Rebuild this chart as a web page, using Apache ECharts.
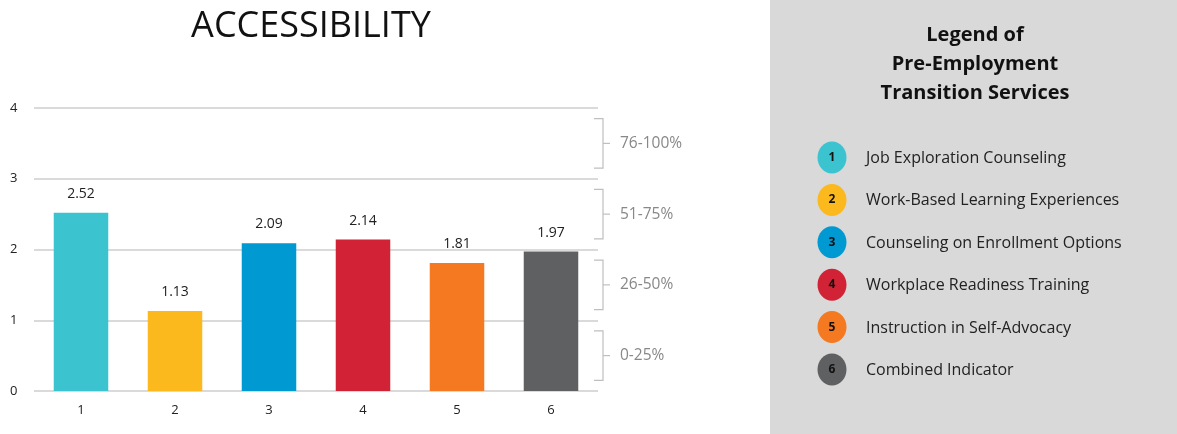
<!DOCTYPE html>
<html>
<head>
<meta charset="utf-8">
<script src="https://cdn.jsdelivr.net/npm/echarts@6/dist/echarts.min.js"></script>
<style>
  html, body { margin: 0; padding: 0; background: #fff; }
  #chart { width: 1177px; height: 434px; }
</style>
</head>
<body>
<div id="chart"></div>
<script>
// Service categories, scores and colours
const categories = ['1', '2', '3', '4', '5', '6'];
const scores = [2.52, 1.13, 2.09, 2.14, 1.81, 1.97];
const barColors = ['#3BC3CF', '#FBB91E', '#0099D1', '#D12335', '#F47920', '#5F6062'];
const serviceNames = [
  'Job Exploration Counseling',
  'Work-Based Learning Experiences',
  'Counseling on Enrollment Options',
  'Workplace Readiness Training',
  'Instruction in Self-Advocacy',
  'Combined Indicator'
];
const yTicks = [0, 1, 2, 3, 4];
const bandLabels = ['0-25%', '26-50%', '51-75%', '76-100%'];
const legendTitle = ['Legend of', 'Pre-Employment', 'Transition Services'];

const FONT = '"Open Sans", "Noto Sans", sans-serif';
const chart = echarts.init(document.getElementById('chart'), null, { renderer: 'canvas' });

// Right-hand legend panel
const panel = [];
panel.push({ type: 'rect', shape: { x: 770, y: 0, width: 407, height: 434 }, style: { fill: '#D9D9D9' }, silent: true });
legendTitle.forEach((t, i) => {
  panel.push({
    type: 'text', x: 975, y: 35 + i * 29,
    style: { text: t, font: 'bold 20px ' + FONT, fill: '#111', align: 'center', verticalAlign: 'middle' }
  });
});
serviceNames.forEach((name, i) => {
  const cy = 157.5 + i * 42.4;
  panel.push({ type: 'ellipse', shape: { cx: 832, cy: cy, rx: 14.5, ry: 16 }, style: { fill: barColors[i] } });
  panel.push({
    type: 'text', x: 832, y: cy,
    style: { text: categories[i], font: 'bold 12px ' + FONT, fill: '#111', align: 'center', verticalAlign: 'middle' }
  });
  panel.push({
    type: 'text', x: 866, y: cy + 1,
    style: { text: name, font: '16px ' + FONT, fill: '#222', align: 'left', verticalAlign: 'middle' }
  });
});

const option = {
  animation: false,
  title: {
    text: 'ACCESSIBILITY', left: 306, top: 4, textAlign: 'center',
    textStyle: { fontFamily: FONT, fontSize: 36, fontWeight: 'normal', color: '#111' }
  },
  grid: { left: 34, right: 579, top: 108, bottom: 43, containLabel: false },
  xAxis: {
    type: 'category', data: categories,
    axisLine: { show: false }, axisTick: { show: false },
    axisLabel: { fontFamily: FONT, fontSize: 13, color: '#222', margin: 13 }
  },
  yAxis: {
    type: 'value', min: 0, max: 4, interval: 1,
    axisLine: { show: false }, axisTick: { show: false },
    axisLabel: { fontFamily: FONT, fontSize: 13, color: '#222', margin: 24, align: 'left',
      formatter: v => yTicks.includes(v) ? String(v) : '' },
    splitLine: { lineStyle: { color: '#DADADA', width: 2 } }
  },
  series: [
    {
      type: 'bar', barWidth: '58%',
      data: scores.map((v, i) => ({ value: v, itemStyle: { color: barColors[i] } })),
      label: {
        show: true, position: 'top', distance: 12,
        fontFamily: FONT, fontSize: 14, color: '#222',
        formatter: p => p.value.toFixed(2)
      }
    },
    {
      // Percentage range brackets to the right of the plot
      type: 'custom', silent: true,
      data: bandLabels.map((t, i) => [i]),
      renderItem: (params, api) => {
        const i = api.value(0);
        const cs = params.coordSys;
        const xr = cs.x + cs.width;
        const top = api.coord([0, i + 0.85])[1];
        const bot = api.coord([0, i + 0.15])[1];
        const mid = (top + bot) / 2;
        const vx = xr + 5;
        const stroke = { stroke: '#BFBFBF', lineWidth: 1.2, fill: null };
        return {
          type: 'group',
          children: [
            { type: 'polyline', shape: { points: [[xr - 4, top], [vx, top], [vx, bot], [xr - 4, bot]] }, style: stroke },
            { type: 'line', shape: { x1: vx, y1: mid, x2: vx + 7, y2: mid }, style: stroke },
            { type: 'text', x: vx + 17, y: mid,
              style: { text: bandLabels[i], font: '15.5px ' + FONT, fill: '#888', align: 'left', verticalAlign: 'middle' } }
          ]
        };
      }
    }
  ],
  graphic: panel
};
chart.setOption(option);
</script>
</body>
</html>
